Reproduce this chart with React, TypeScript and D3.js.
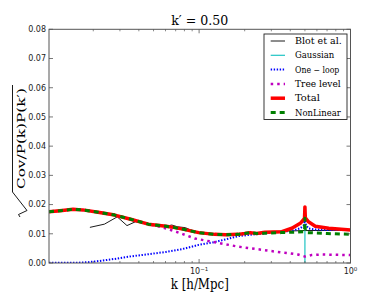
import React from "react";
import * as d3 from "d3";

// ---------- data ----------
const K_TOTAL = [0.0102, 0.0125, 0.0147, 0.0175, 0.0215, 0.0277, 0.0358, 0.0462, 0.0605, 0.0677, 0.078, 0.0993, 0.1268, 0.15, 0.181, 0.2, 0.217, 0.24, 0.272, 0.31, 0.352, 0.41, 0.466, 0.497, 0.5, 0.503, 0.528, 0.585, 0.718, 1.0];
const TOTAL = [0.0175, 0.018, 0.0184, 0.0181, 0.0174, 0.0164, 0.0149, 0.0133, 0.0126, 0.0122, 0.0116, 0.0104, 0.0098, 0.0097, 0.0098, 0.0101, 0.0104, 0.0101, 0.0105, 0.0106, 0.0107, 0.0119, 0.0136, 0.0153, 0.0192, 0.0155, 0.0141, 0.0126, 0.0119, 0.0113];

const K_NONLIN = [0.0102, 0.0125, 0.0147, 0.0175, 0.0215, 0.0277, 0.0358, 0.0462, 0.0605, 0.0677, 0.078, 0.0993, 0.1268, 0.15, 0.181, 0.2, 0.217, 0.24, 0.272, 0.35, 0.45, 0.497, 0.5, 0.503, 0.52, 0.7, 1.0];
const NONLIN = [0.0175, 0.018, 0.0184, 0.0181, 0.0174, 0.0164, 0.0149, 0.0133, 0.0126, 0.0122, 0.0116, 0.0104, 0.0098, 0.0097, 0.0098, 0.0101, 0.0104, 0.0101, 0.0102, 0.0104, 0.0106, 0.0107, 0.0153, 0.0107, 0.0104, 0.0101, 0.0098];

const K_ONELOOP = [0.0102, 0.013, 0.016, 0.0185, 0.022, 0.0277, 0.0358, 0.0462, 0.0605, 0.0677, 0.078, 0.0993, 0.127, 0.15, 0.181, 0.22, 0.272, 0.35, 0.41, 0.466, 0.49, 0.5, 0.51, 0.53, 0.585, 0.7, 1.0];
const ONELOOP = [0.0001, 0.0001, 0.0001, 0.0003, 0.0007, 0.0014, 0.0023, 0.003, 0.0038, 0.0042, 0.0048, 0.0062, 0.0072, 0.0081, 0.0092, 0.0097, 0.0101, 0.0107, 0.011, 0.0119, 0.0128, 0.0145, 0.0128, 0.0118, 0.0115, 0.0113, 0.0113];

const K_TREE = [0.0102, 0.0125, 0.0147, 0.0175, 0.0215, 0.0277, 0.0358, 0.0462, 0.0537, 0.0605, 0.0677, 0.078, 0.0935, 0.11, 0.127, 0.15, 0.181, 0.22, 0.272, 0.33, 0.4, 0.45, 0.5, 0.55, 0.632, 0.8, 1.0];
const TREE = [0.0175, 0.018, 0.0184, 0.0181, 0.0174, 0.0164, 0.0149, 0.0133, 0.0126, 0.0118, 0.011, 0.0099, 0.0084, 0.0077, 0.0071, 0.0064, 0.0056, 0.005, 0.0044, 0.0038, 0.0033, 0.0029, 0.0022, 0.0027, 0.0029, 0.0028, 0.0027];

const K_BLOT = [0.019, 0.0237, 0.0288, 0.0334, 0.0379, 0.045, 0.055, 0.062, 0.066, 0.072, 0.081, 0.09, 0.1, 0.13, 0.16, 0.2, 0.25, 0.3, 0.5, 1.0];
const BLOT = [0.0122, 0.0133, 0.0158, 0.0128, 0.0141, 0.0136, 0.0129, 0.0127, 0.013, 0.0124, 0.0121, 0.0111, 0.0104, 0.0099, 0.0098, 0.0101, 0.0104, 0.0108, 0.0111, 0.0112];

const K_GAUSS = [0.4999, 0.5, 0.5001];
const GAUSS = [0, 0.0112, 0];

const Y_TICKS = [0, 0.01, 0.02, 0.03, 0.04, 0.05, 0.06, 0.07, 0.08];
const Y_TICK_LABELS = ["0.00", "0.01", "0.02", "0.03", "0.04", "0.05", "0.06", "0.07", "0.08"];
const X_MAJOR = [0.1, 1];
const X_MAJOR_EXP = ["\u22121", "0"];

const LEGEND_LABELS = ["Blot et al.", "Gaussian", "One \u2212 loop", "Tree level", "Total", "NonLinear"];

// ---------- layout ----------
const W = 390, H = 293;
const L = 49, R = 350.5, T = 29.3, B = 263;

export default function App() {
  const x = d3.scaleLog().domain([0.0102, 1]).range([L, R]);
  const y = d3.scaleLinear().domain([0, 0.08]).range([B, T]);
  const mk = (ks: number[], vs: number[]) =>
    d3.line<number>().x((_, i) => x(ks[i])).y((v) => y(v))(vs) || "";

  const series = [
    { d: mk(K_BLOT, BLOT), stroke: "#000", w: 0.9, dash: undefined as string | undefined },
    { d: mk(K_GAUSS, GAUSS), stroke: "#1fc4c4", w: 1.2, dash: undefined },
    { d: mk(K_ONELOOP, ONELOOP), stroke: "#0000ff", w: 2, dash: "1.4,1.6" },
    { d: mk(K_TREE, TREE), stroke: "#bf00bf", w: 2.5, dash: "2.5,4" },
    { d: mk(K_TOTAL, TOTAL), stroke: "#ff0000", w: 3.5, dash: undefined },
    { d: mk(K_NONLIN, NONLIN), stroke: "#007f00", w: 3, dash: "5,4" },
  ];

  const allTicks = x.ticks();
  const minor = allTicks.filter((t) => t > 0.0102 && !X_MAJOR.some((m) => Math.abs(m - t) < 1e-9));

  const legX = 264, legY = 34, legW = 83, legH = 85.5;
  const legRow0 = 41, legStep = 14.3;
  const legWidths = [46.7, 39.3, 44.3, 45.7, 25, 45.7];

  return (
    <div style={{ position: "fixed", left: 0, top: 0 }}>
      <svg width={W} height={H} style={{ display: "block", background: "#fff" }}>
        <defs>
          <clipPath id="plot">
            <rect x={L} y={T} width={R - L} height={B - T} />
          </clipPath>
        </defs>
        <rect x={0} y={0} width={W} height={H} fill="#fff" />

        {/* series */}
        <g clipPath="url(#plot)">
          {series.map((s, i) => (
            <path key={i} d={s.d} fill="none" stroke={s.stroke} strokeWidth={s.w}
              strokeDasharray={s.dash} strokeLinejoin="round" strokeLinecap="butt" />
          ))}
        </g>

        {/* frame */}
        <rect x={L} y={T} width={R - L} height={B - T} fill="none" stroke="#555" strokeWidth={1} />

        {/* y ticks */}
        {Y_TICKS.map((t, i) => (
          <g key={"y" + i}>
            <line x1={L} x2={L + 4} y1={y(t)} y2={y(t)} stroke="#555" strokeWidth={0.8} />
            <line x1={R - 4} x2={R} y1={y(t)} y2={y(t)} stroke="#555" strokeWidth={0.8} />
            <text x={L - 3} y={y(t)} dy="0.35em" textAnchor="end" fontFamily="DejaVu Sans" fontSize={8} fill="#222">
              {Y_TICK_LABELS[i]}
            </text>
          </g>
        ))}

        {/* x ticks */}
        {X_MAJOR.map((t, i) => (
          <g key={"xm" + i}>
            <line x1={x(t)} x2={x(t)} y1={B} y2={B - 4} stroke="#555" strokeWidth={0.8} />
            <line x1={x(t)} x2={x(t)} y1={T} y2={T + 4} stroke="#555" strokeWidth={0.8} />
            <text x={x(t)} y={274} textAnchor="middle" fontFamily="DejaVu Sans" fontSize={8} fill="#222">
              10<tspan dy={-3.5} fontSize={5.5}>{X_MAJOR_EXP[i]}</tspan>
            </text>
          </g>
        ))}
        {minor.map((t, i) => (
          <g key={"xn" + i}>
            <line x1={x(t)} x2={x(t)} y1={B} y2={B - 2} stroke="#555" strokeWidth={0.7} />
            <line x1={x(t)} x2={x(t)} y1={T} y2={T + 2} stroke="#555" strokeWidth={0.7} />
          </g>
        ))}

        {/* title */}
        <text x={(L + R) / 2} y={24.5} textAnchor="middle" fontFamily="DejaVu Serif" fontSize={13}
          textLength={57} lengthAdjust="spacingAndGlyphs" fill="#000">
          {"k\u2032 = 0.50"}
        </text>

        {/* x label */}
        <text x={(L + R) / 2} y={289} textAnchor="middle" fontFamily="DejaVu Serif" fontSize={14}
          textLength={58} lengthAdjust="spacingAndGlyphs" fill="#000">
          {"k [h/Mpc]"}
        </text>

        {/* y label */}
        <g transform="translate(25,217) rotate(-90)">
          <path d="M0,-5 L2.5,-6.5 L6.5,2 L25,-12.5 L132,-12.5" fill="none" stroke="#000" strokeWidth={0.9} />
          <text x={28} y={0} fontFamily="DejaVu Serif" fontSize={11.5} textLength={101}
            lengthAdjust="spacingAndGlyphs" fill="#000">
            {"Cov/P(k)P(k\u2032)"}
          </text>
        </g>

        {/* legend */}
        <rect x={legX} y={legY} width={legW} height={legH} fill="#fff" stroke="#222" strokeWidth={0.9} />
        {series.map((s, i) => {
          const yy = legRow0 + i * legStep;
          return (
            <g key={"lg" + i}>
              <line x1={270.7} x2={285} y1={yy} y2={yy} stroke={s.stroke} strokeWidth={s.w}
                strokeDasharray={s.dash} />
              <text x={295} y={yy + 3} fontFamily="DejaVu Serif" fontSize={8.5} fill="#000"
                textLength={legWidths[i]} lengthAdjust="spacingAndGlyphs">
                {LEGEND_LABELS[i]}
              </text>
            </g>
          );
        })}
      </svg>
    </div>
  );
}
